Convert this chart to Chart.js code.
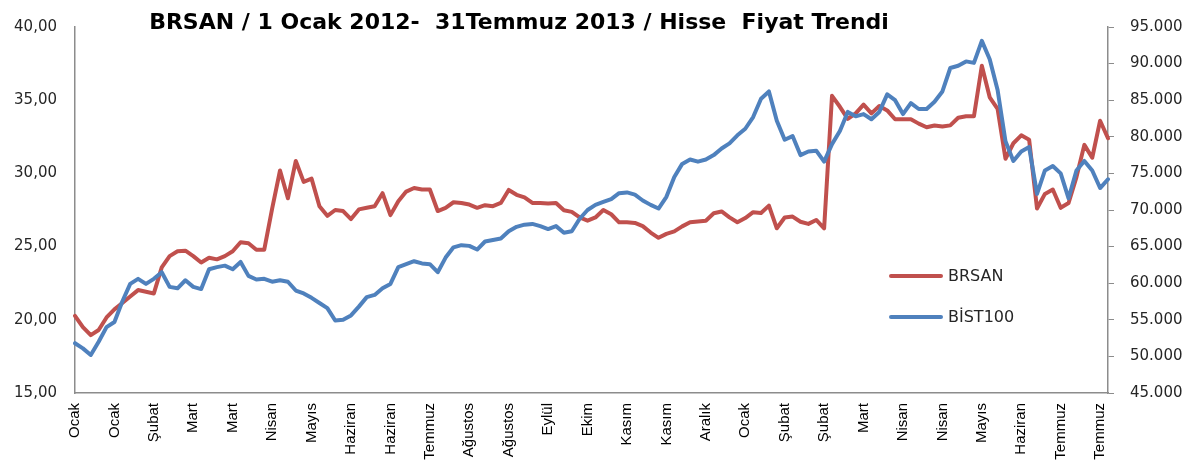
<!DOCTYPE html>
<html>
<head>
  <meta charset="utf-8">
  <title>BRSAN / BİST100</title>
  <style>
    body {
      margin: 0;
      background: #fff;
    }
    #kutu {
      position: relative;
      width: 1197px;
      height: 471px;
    }
  </style>
</head>
<body>
  <div id="kutu"><canvas id="grafik"></canvas></div>

  <script src="https://cdn.jsdelivr.net/npm/chart.js"></script>
  <script>
    // Eksen etiketleri (her 5 noktada bir ay adı)
    const aylar = ['Ocak', 'Ocak', 'Şubat', 'Mart', 'Mart', 'Nisan', 'Mayıs', 'Haziran', 'Haziran',
      'Temmuz', 'Ağustos', 'Ağustos', 'Eylül', 'Ekim', 'Kasım', 'Kasım', 'Aralık', 'Ocak',
      'Şubat', 'Şubat', 'Mart', 'Nisan', 'Nisan', 'Mayıs', 'Haziran', 'Temmuz', 'Temmuz'];

    // BRSAN hisse fiyatı (TL, sol eksen)
    const brsan = [
      20.27, 19.5, 18.95, 19.3, 20.16, 20.71, 21.15, 21.59, 22.03, 21.92,
      21.8, 23.58, 24.35, 24.68, 24.72, 24.35, 23.91, 24.24, 24.13, 24.35,
      24.68, 25.3, 25.23, 24.79, 24.79, 27.6, 30.2, 28.3, 30.85, 29.42,
      29.64, 27.76, 27.1, 27.5, 27.43, 26.88, 27.54, 27.65, 27.76, 28.65,
      27.15, 28.1, 28.76, 29.0, 28.9, 28.9, 27.43, 27.65, 28.03, 27.98,
      27.87, 27.65, 27.83, 27.76, 27.98, 28.87, 28.54, 28.36, 27.98, 27.98,
      27.94, 27.98, 27.48, 27.37, 26.99, 26.77, 26.99, 27.5, 27.21, 26.66,
      26.66, 26.62, 26.4, 25.96, 25.6, 25.87, 26.04, 26.38, 26.66, 26.71,
      26.77, 27.28, 27.4, 27.0, 26.66, 26.95, 27.35, 27.3, 27.8, 26.25,
      26.99, 27.05, 26.7, 26.55, 26.82, 26.25, 35.3, 34.55, 33.72, 34.1,
      34.7, 34.1, 34.6, 34.3, 33.7, 33.7, 33.7, 33.4, 33.15, 33.27,
      33.2, 33.28, 33.8, 33.9, 33.9, 37.35, 35.2, 34.4, 31.0, 32.06,
      32.6, 32.3, 27.6, 28.6, 28.9, 27.65, 27.98, 29.75, 31.95, 31.07,
      33.6, 32.4
    ];

    // BİST100 endeksi (sağ eksen)
    const bist100 = [
      51800, 51100, 50200, 52000, 54000, 54700, 57500, 59900, 60600, 59900,
      60600, 61500, 59500, 59300, 60400, 59500, 59200, 61900, 62200, 62400,
      61900, 62900, 61000, 60500, 60600, 60200, 60400, 60200, 59000, 58600,
      58000, 57300, 56600, 54900, 55000, 55600, 56800, 58100, 58400, 59300,
      59900, 62200, 62600, 63000, 62700, 62600, 61500, 63500, 64900, 65200,
      65100, 64600, 65700, 65900, 66100, 67100, 67700, 68000, 68100, 67800,
      67400, 67800, 66900, 67100, 68800, 70000, 70700, 71100, 71500, 72300,
      72400, 72100, 71300, 70700, 70200, 71800, 74500, 76300, 76900, 76600,
      76900, 77500, 78400, 79100, 80200, 81100, 82700, 85200, 86200, 82200,
      79600, 80100, 77500, 78000, 78100, 76600, 79000, 80800, 83400, 82800,
      83100, 82400, 83400, 85800, 85000, 83100, 84600, 83800, 83800, 84800,
      86200, 89400, 89700, 90300, 90100, 93100, 90600, 86400, 79400, 76700,
      78000, 78600, 72200, 75400, 76000, 75000, 71600, 75400, 76700, 75400,
      73000, 74200
    ];

    const baslik = 'BRSAN / 1 Ocak 2012-  31Temmuz 2013 / Hisse  Fiyat Trendi';

    // Her noktaya bir etiket, sadece her 5. noktada ay adı
    const etiketler = brsan.map((v, i) => (i % 5 === 0 ? aylar[i / 5] : ''));

    const eksenRengi = '#8c8c8c';
    const yaziRengi = '#262626';

    // Başlığı grafiğin üstüne yazar
    const baslikEklentisi = {
      id: 'baslik',
      afterDraw(chart) {
        const ctx = chart.ctx;
        ctx.save();
        ctx.font = 'bold 22px "DejaVu Sans"';
        ctx.fillStyle = '#000';
        ctx.textAlign = 'center';
        ctx.textBaseline = 'middle';
        ctx.fillText(baslik, 519, 23);
        ctx.restore();
      }
    };

    // Lejant, çizim alanının sağ alt kısmında
    const lejantEklentisi = {
      id: 'lejant',
      afterDraw(chart) {
        const ctx = chart.ctx;
        ctx.save();
        chart.data.datasets.forEach((ds, i) => {
          const y = 276 + i * 41;
          ctx.strokeStyle = ds.borderColor;
          ctx.lineWidth = 4;
          ctx.lineCap = 'round';
          ctx.beginPath();
          ctx.moveTo(891, y);
          ctx.lineTo(941, y);
          ctx.stroke();
          ctx.fillStyle = yaziRengi;
          ctx.font = '16px "DejaVu Sans"';
          ctx.textAlign = 'left';
          ctx.textBaseline = 'middle';
          ctx.fillText(ds.label, 948, y + 1);
        });
        ctx.restore();
      }
    };

    new Chart(document.getElementById('grafik'), {
      type: 'line',
      data: {
        labels: etiketler,
        datasets: [{
          label: 'BRSAN',
          data: brsan,
          yAxisID: 'y',
          borderColor: '#C0504D',
          borderWidth: 4,
          pointRadius: 0,
          tension: 0,
          borderJoinStyle: 'round',
          borderCapStyle: 'round',
          order: 1
        }, {
          label: 'BİST100',
          data: bist100,
          yAxisID: 'y1',
          borderColor: '#4F81BD',
          borderWidth: 4,
          pointRadius: 0,
          tension: 0,
          borderJoinStyle: 'round',
          borderCapStyle: 'round',
          order: 0
        }]
      },
      options: {
        responsive: true,
        maintainAspectRatio: false,
        animation: false,
        layout: { padding: { top: 15, left: 0, right: 0, bottom: 0 } },
        plugins: {
          legend: { display: false },
          tooltip: { enabled: false }
        },
        scales: {
          x: {
            offset: false,
            grid: { display: false, drawTicks: false },
            border: { display: true, color: eksenRengi, width: 1.5 },
            ticks: {
              autoSkip: false,
              maxRotation: 90,
              minRotation: 90,
              padding: 10,
              color: '#000',
              font: { family: 'Liberation Sans', size: 15 }
            },
            afterFit(s) { s.height = 78; }
          },
          y: {
            position: 'left',
            min: 15,
            max: 40,
            grid: { display: false, drawTicks: false },
            border: { display: true, color: eksenRengi, width: 1.5 },
            ticks: {
              stepSize: 5,
              padding: 18,
              color: yaziRengi,
              font: { family: 'DejaVu Sans', size: 15 },
              callback: v => v.toFixed(2).replace('.', ',')
            },
            afterFit(s) { s.width = 75; }
          },
          y1: {
            position: 'right',
            min: 45000,
            max: 95000,
            grid: { display: true, drawOnChartArea: false, drawTicks: true, tickLength: 6, color: eksenRengi },
            border: { display: true, color: eksenRengi, width: 1.5 },
            ticks: {
              stepSize: 5000,
              padding: 16,
              color: yaziRengi,
              font: { family: 'DejaVu Sans', size: 15 },
              callback: v => String(v).replace(/\B(?=(\d{3})+(?!\d))/g, '.')
            },
            afterFit(s) { s.width = 89; }
          }
        }
      },
      plugins: [baslikEklentisi, lejantEklentisi]
    });
  </script>
</body>
</html>
